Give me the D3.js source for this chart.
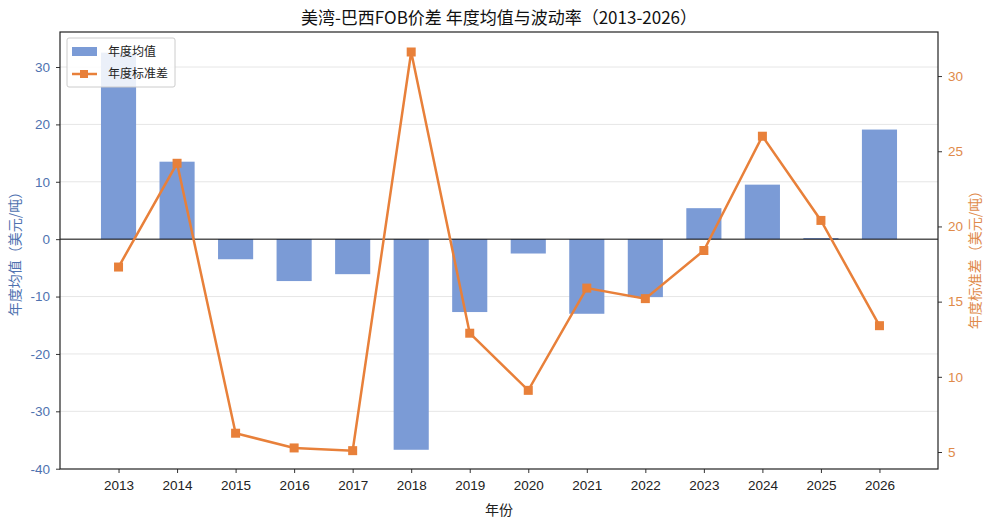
<!DOCTYPE html>
<html>
<head>
<meta charset="utf-8">
<script src="https://cdn.jsdelivr.net/npm/d3@7"></script>
<style>
  body { margin: 0; background: #fff; }
  svg { font-family: "Noto Sans CJK SC", "Noto Sans", sans-serif; }
</style>
</head>
<body>
<svg id="chart" width="991" height="523"></svg>
<script>
const years = [2013, 2014, 2015, 2016, 2017, 2018, 2019, 2020, 2021, 2022, 2023, 2024, 2025, 2026]
const meanValues = [32.5, 13.5, -3.5, -7.3, -6.1, -36.7, -12.7, -2.5, -13.0, -10.1, 5.4, 9.5, 0.2, 19.1]
const stdValues = [17.3, 24.2, 6.25, 5.27, 5.09, 31.6, 12.9, 9.1, 15.9, 15.2, 18.4, 26.0, 20.4, 13.4]
const leftTicks = [-40, -30, -20, -10, 0, 10, 20, 30]
const rightTicks = [5, 10, 15, 20, 25, 30]

const blue = '#7b9bd6'
const orange = '#e8803a'

const margin = {top: 32, right: 53, bottom: 54, left: 60}
const width = 991 - margin.left - margin.right
const height = 523 - margin.top - margin.bottom

const svg = d3.select('#chart')
const g = svg.append('g').attr('transform', `translate(${margin.left},${margin.top})`)

const x = d3.scaleLinear().domain([2012, 2027]).range([0, width])
const yLeft = d3.scaleLinear().domain([-40.05, 36.1]).range([height, 0])
const yRight = d3.scaleLinear().domain([3.87, 32.93]).range([height, 0])

// grid lines from left axis
g.append('g')
    .selectAll('line')
    .data(leftTicks.filter(d => d !== 0 && d !== -40))
    .join('line')
    .attr('x1', 0)
    .attr('x2', width)
    .attr('y1', d => yLeft(d))
    .attr('y2', d => yLeft(d))
    .attr('stroke', '#e6e6e6')
    .attr('stroke-width', 1)

const barW = x(2012.6) - x(2012)
g.append('g')
    .selectAll('rect')
    .data(years)
    .join('rect')
    .attr('x', d => x(d) - barW / 2)
    .attr('width', barW)
    .attr('y', (d, i) => yLeft(Math.max(0, meanValues[i])))
    .attr('height', (d, i) => Math.abs(yLeft(meanValues[i]) - yLeft(0)))
    .attr('fill', blue)

// zero line
g.append('line')
    .attr('x1', 0).attr('x2', width)
    .attr('y1', yLeft(0)).attr('y2', yLeft(0))
    .attr('stroke', '#000').attr('stroke-width', 1)

const line = d3.line()
    .x(d => x(d[0]))
    .y(d => yRight(d[1]))
const pts = years.map((d, i) => [d, stdValues[i]])

g.append('path')
    .datum(pts)
    .attr('d', line)
    .attr('fill', 'none')
    .attr('stroke', orange)
    .attr('stroke-width', 2.5)

g.append('g')
    .selectAll('rect')
    .data(pts)
    .join('rect')
    .attr('x', d => x(d[0]) - 4.5)
    .attr('y', d => yRight(d[1]) - 4.5)
    .attr('width', 9)
    .attr('height', 9)
    .attr('fill', orange)

// axes
const plain = d => String(d)  // hyphen minus like the original

const xAxis = g.append('g')
    .attr('transform', `translate(0,${height})`)
    .call(d3.axisBottom(x).tickValues(years).tickFormat(plain).tickSize(4).tickPadding(7))
xAxis.selectAll('text').attr('font-size', 13.5).attr('fill', '#222')

const leftAxis = g.append('g')
    .call(d3.axisLeft(yLeft).tickValues(leftTicks).tickFormat(plain).tickSize(4).tickPadding(6))
leftAxis.selectAll('text').attr('font-size', 13.5).attr('fill', '#4f72b0')

const rightAxis = g.append('g')
    .attr('transform', `translate(${width},0)`)
    .call(d3.axisRight(yRight).tickValues(rightTicks).tickFormat(plain).tickSize(4).tickPadding(6))
rightAxis.selectAll('text').attr('font-size', 13.5).attr('fill', '#e08a4a')

g.selectAll('.domain').remove()
g.selectAll('.tick line').attr('stroke', '#333')

// frame
g.append('rect')
    .attr('width', width).attr('height', height)
    .attr('fill', 'none').attr('stroke', '#222').attr('stroke-width', 1.2)

// labels
svg.append('text')
    .attr('x', margin.left + width / 2).attr('y', 24)
    .attr('text-anchor', 'middle')
    .attr('font-size', 17)
    .attr('fill', '#111')
    .text('美湾-巴西FOB价差 年度均值与波动率（2013-2026）')

svg.append('text')
    .attr('x', margin.left + width / 2).attr('y', 515)
    .attr('text-anchor', 'middle')
    .attr('font-size', 14)
    .attr('fill', '#222')
    .text('年份')

svg.append('text')
    .attr('transform', `translate(20,${margin.top + height / 2}) rotate(-90)`)
    .attr('text-anchor', 'middle')
    .attr('font-size', 14)
    .attr('fill', '#4f72b0')
    .text('年度均值（美元/吨）')

svg.append('text')
    .attr('transform', `translate(980,${margin.top + height / 2 + 6}) rotate(-90)`)
    .attr('text-anchor', 'middle')
    .attr('font-size', 14)
    .attr('fill', '#e08a4a')
    .text('年度标准差（美元/吨）')

// legend
const legend = g.append('g').attr('transform', 'translate(7,6)')
legend.append('rect')
    .attr('width', 108).attr('height', 49)
    .attr('rx', 2)
    .attr('fill', '#fff').attr('fill-opacity', 0.85)
    .attr('stroke', '#ccc')
legend.append('rect')
    .attr('x', 5).attr('y', 9).attr('width', 25).attr('height', 9)
    .attr('fill', blue)
legend.append('text')
    .attr('x', 41).attr('y', 18)
    .attr('font-size', 12).attr('fill', '#222')
    .text('年度均值')
legend.append('line')
    .attr('x1', 5).attr('x2', 30).attr('y1', 36).attr('y2', 36)
    .attr('stroke', orange).attr('stroke-width', 2.5)
legend.append('rect')
    .attr('x', 13).attr('y', 32).attr('width', 8).attr('height', 8)
    .attr('fill', orange)
legend.append('text')
    .attr('x', 41).attr('y', 40)
    .attr('font-size', 12).attr('fill', '#222')
    .text('年度标准差')
</script>
</body>
</html>
